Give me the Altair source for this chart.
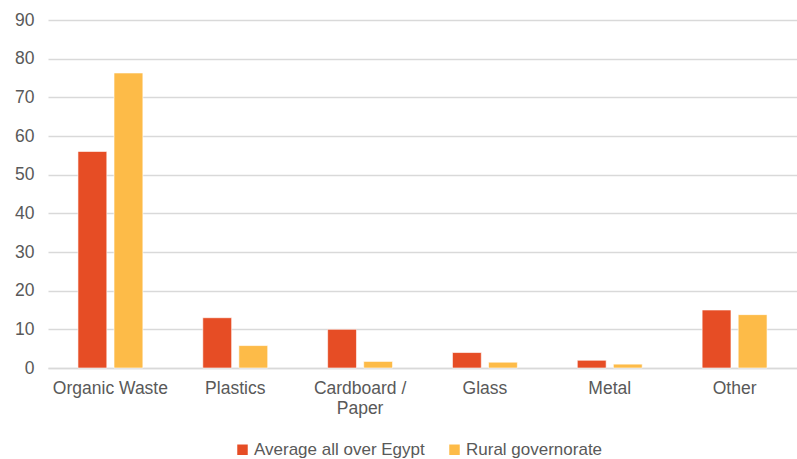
import altair as alt
import pandas as pd

categories = ["Organic Waste", "Plastics", "Cardboard / Paper", "Glass", "Metal", "Other"]
series_names = ["Average all over Egypt", "Rural governorate"]
avg_egypt = [56, 13, 10, 4, 2, 15]
rural = [76.3, 5.8, 1.7, 1.5, 1, 13.8]
colors = ["#E64D25", "#FDBB48"]

rows = []
for c, a, r in zip(categories, avg_egypt, rural):
    rows.append({"category": c, "series": series_names[0], "value": a})
    rows.append({"category": c, "series": series_names[1], "value": r})
df = pd.DataFrame(rows)

font = "Liberation Sans"
text_color = "#595959"

chart = alt.Chart(df).mark_bar(stroke="white", strokeWidth=0.6).encode(
    x=alt.X("category:N", sort=categories, title=None,
            scale=alt.Scale(paddingInner=0.48, paddingOuter=0.24),
            axis=alt.Axis(labelAngle=0, labelFont=font, labelFontSize=17.5,
                          labelColor=text_color, ticks=False, domain=True,
                          domainColor="#D9D9D9", domainWidth=1.5, labelPadding=11,
                          labelLineHeight=20, labelLimit=300,
                          labelExpr="datum.label == 'Cardboard / Paper' ? ['Cardboard /', 'Paper'] : datum.label")),
    xOffset=alt.XOffset("series:N", sort=series_names,
                        scale=alt.Scale(paddingInner=0.2, paddingOuter=0)),
    y=alt.Y("value:Q", title=None,
            scale=alt.Scale(domain=[0, 90], nice=False),
            axis=alt.Axis(values=list(range(0, 91, 10)), labelFont=font, labelFontSize=17.5,
                          labelColor=text_color, ticks=False, domain=False,
                          gridColor="#D9D9D9", gridWidth=1.5, labelPadding=14)),
    color=alt.Color("series:N", sort=series_names,
                    scale=alt.Scale(domain=series_names, range=colors),
                    legend=alt.Legend(title=None, orient="none", direction="horizontal",
                                      legendX=186, legendY=421,
                                      symbolType="square", symbolSize=110, symbolStrokeWidth=0,
                                      labelFont=font, labelFontSize=17, labelColor=text_color,
                                      labelLimit=400, columnPadding=21, labelOffset=3)),
).properties(
    width=749, height=348,
    padding={"left": 48, "top": 20, "right": 0, "bottom": 91},
    autosize=alt.AutoSizeParams(type="none"),
).configure_view(stroke=None)

chart.save("out.html", embed_options={"renderer": "svg", "actions": False})
